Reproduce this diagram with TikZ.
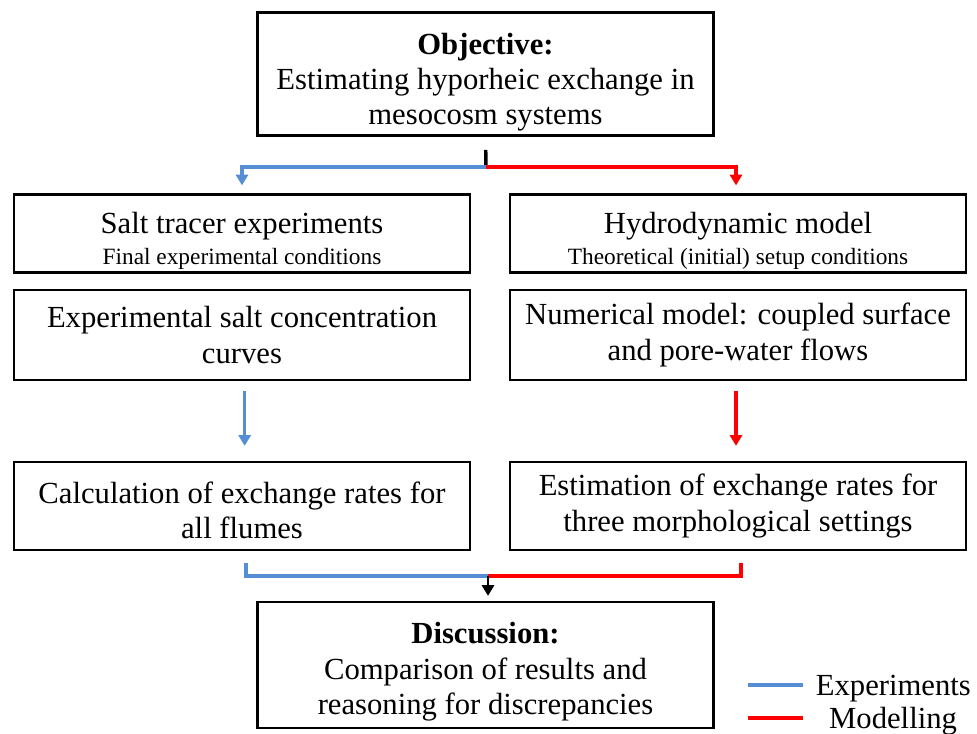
\documentclass[tikz,border=0pt]{standalone}
\usepackage{fontspec}
\setmainfont{Liberation Serif}
\usepackage{tikz}
\usetikzlibrary{arrows.meta,positioning}

\definecolor{expblue}{RGB}{85,142,213}
\definecolor{modred}{RGB}{255,0,0}
\newcommand{\toppad}[1]{\rule{0pt}{#1}}

\begin{document}
\begin{tikzpicture}[x=0.75pt,y=-0.75pt,
        box/.style={draw,line width=2.2pt,minimum width=342pt,inner sep=0pt,align=center,
                    font=\fontsize{23}{26.5}\selectfont},
        tip/.style={-{Triangle[width=9pt,length=8pt]}},
        expline/.style={draw=expblue,line width=2.6pt},
        modline/.style={draw=modred,line width=2.6pt}]
    \useasboundingbox (0,0) rectangle (977,733);
    % boxes
    \node[box,minimum height=92pt] (obj) at (485.5,74)
        {\toppad{28pt}\textbf{Objective:}\\Estimating hyporheic exchange in\\mesocosm systems};
    \node[box,minimum height=58pt] (salt) at (242,233.5)
        {\toppad{27pt}Salt tracer experiments\\[-3pt]{\fontsize{17.5}{20}\selectfont Final experimental conditions}};
    \node[box,minimum height=58pt] (hydro) at (738,233.5)
        {\toppad{27pt}Hydrodynamic model\\[-3pt]{\fontsize{17.5}{20}\selectfont Theoretical (initial) setup conditions}};
    \node[box,minimum height=67.5pt] (expc) at (242,335)
        {Experimental salt concentration\\curves};
    \node[box,minimum height=67.5pt] (num) at (738,335)
        {Numerical model: coupled surface\\and pore-water flows};
    \node[box,minimum height=66pt] (calc) at (242,506)
        {\toppad{23pt}Calculation of exchange rates for\\all flumes};
    \node[box,minimum height=66pt] (est) at (738,506)
        {Estimation of exchange rates for\\three morphological settings};
    \node[box,minimum height=94.5pt] (disc) at (485.5,665)
        {\toppad{26pt}\textbf{Discussion:}\\Comparison of results and\\reasoning for discrepancies};

    % split and merge points
    \coordinate (fork) at (486,167);
    \coordinate (merge) at (488,576);

    % top
    \draw[line width=2.6pt,shorten <=9.75pt] (obj.south) -- (fork);
    \draw[expline,tip,shorten >=6pt] (fork) -| (salt.north);
    \draw[modline,tip,shorten >=6pt] (fork) -| ([xshift=-1.5pt]hydro.north);

    % middle
    \draw[expline,tip,shorten <=7.5pt,shorten >=11pt] ([xshift=2pt]expc.south) -- ([xshift=2pt]calc.north);
    \draw[modline,tip,shorten <=7.5pt,shorten >=11pt] ([xshift=-1.5pt]num.south) -- ([xshift=-1.5pt]est.north);

    % bottom
    \draw[expline,shorten <=9pt] ([xshift=3pt]calc.south) |- (merge);
    \draw[modline,shorten <=9pt] ([xshift=2.3pt]est.south) |- (merge);
    \draw[line width=2.2pt,tip,shorten >=3.5pt] (merge) -- (merge |- disc.north);

    % legend
    \draw[expline] (748,685) -- (803,685) node[right=5pt,yshift=-2.5pt,font=\fontsize{23}{26}\selectfont] (legexp) {Experiments};
    \draw[modline] (748,718) -- (803,718) node[right=15pt,yshift=-2pt,font=\fontsize{23}{26}\selectfont] (legmod) {Modelling};
\end{tikzpicture}
\end{document}
